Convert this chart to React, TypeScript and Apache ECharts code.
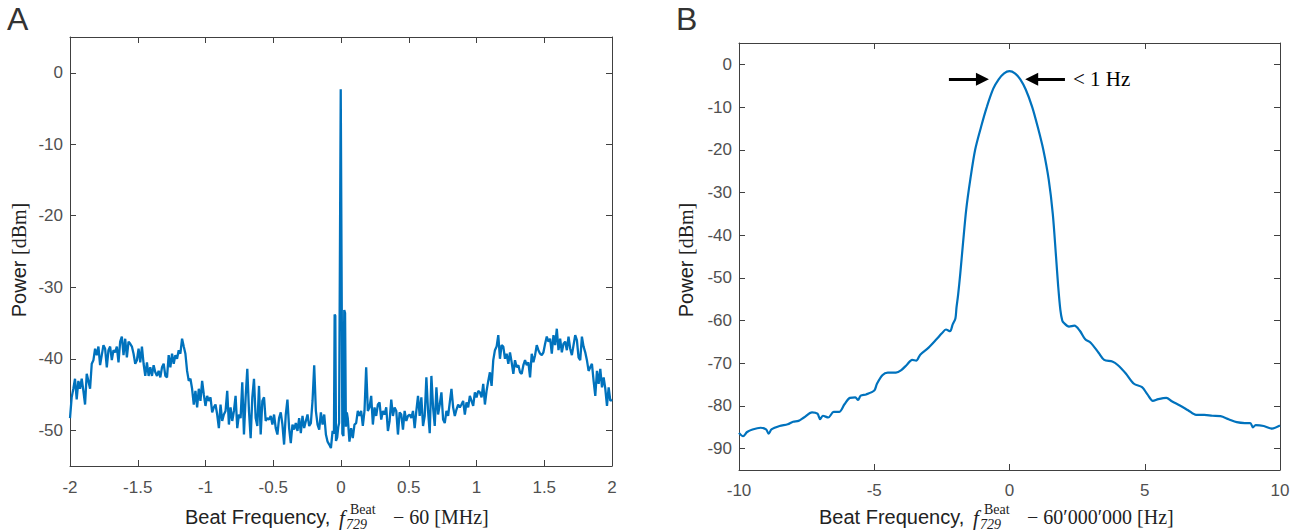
import React, { useEffect, useRef } from "react";
import * as echarts from "echarts";

// ---------- Panel A data ----------
const xTicksA = [-2, -1.5, -1, -0.5, 0, 0.5, 1, 1.5, 2];
const yTicksA = [0, -10, -20, -30, -40, -50];

// left part, evenly sampled from -2 to -0.062 MHz
const leftStartA = -2;
const leftEndA = -0.062;
const powerLeftA = [
  -48.3, -45.4, -44.2, -42.8, -45.7, -43.1, -44.2, -42.8, -44.5, -46.4,
  -42.1, -43.1, -44.2, -40.7, -40.2, -38.6, -39.5, -38.3, -40.9, -39.5,
  -38.1, -38.6, -41.2, -38.8, -38.3, -40.2, -38.8, -39.1, -38.3, -40.5,
  -37.6, -36.9, -39.5, -37.2, -39.8, -37.6, -37.9, -38.3, -39.3, -40.7,
  -40.2, -38.6, -40.5, -38.3, -40.7, -42.4, -40.5, -42.4, -41.2, -42.4,
  -40.9, -41.9, -42.4, -41.7, -42.6, -41.2, -40.7, -42.4, -42.6, -39.5,
  -41.2, -39.3, -40.7, -39.5, -40.0, -38.8, -39.3, -37.2, -38.3, -39.3,
  -41.7, -43.1, -42.8, -44.2, -46.4, -44.5, -46.8, -44.2, -45.9, -43.1,
  -45.0, -46.6, -45.2, -45.9, -45.4, -47.5, -46.8, -46.4, -47.8, -49.7,
  -46.4, -48.7, -47.8, -47.3, -44.5, -49.2, -46.8, -48.7, -47.3, -45.2,
  -49.7, -47.8, -48.3, -43.3, -50.6, -45.4, -41.4, -47.3, -51.1, -45.4,
  -42.8, -48.3, -49.4, -43.8, -50.6, -45.9, -45.4, -48.7, -48.3, -48.5,
  -48.0, -49.2, -47.8, -49.7, -50.6, -48.3, -47.5, -49.2, -52.0, -47.8,
  -45.7, -49.7, -51.8, -49.2, -49.9, -49.0, -50.1, -48.3, -50.4, -48.0,
  -49.7, -48.7, -47.8, -49.4, -49.0, -45.9, -40.9, -47.3, -49.2, -49.9,
  -47.5, -49.2, -47.8, -50.6, -51.6, -52.0, -52.5, -50.1,
];

// carrier and its sidebands
const centerFreqA = [-0.052, -0.047, -0.042, -0.037, -0.028, -0.02, -0.014, -0.002, 0.01, 0.018, 0.024, 0.03, 0.036, 0.043];
const centerPowerA = [-50.5, -33.8, -34.0, -51.5, -51.0, -49.5, -49.0, -2.3, -50.5, -50.8, -33.2, -33.6, -49.5, -47.5];

// right part, evenly sampled from 0.05 to 2 MHz
const rightStartA = 0.05;
const rightEndA = 2.0;
const powerRightA = [
  -48.3, -51.6, -49.7, -51.1, -49.2, -49.0, -47.3, -48.0, -47.3, -49.4,
  -47.3, -41.2, -47.3, -46.8, -45.2, -49.2, -46.8, -48.0, -46.4, -46.1,
  -48.5, -47.3, -47.8, -46.8, -50.1, -48.7, -45.7, -48.0, -46.8, -47.3,
  -50.6, -47.5, -47.8, -49.9, -47.3, -48.7, -48.0, -47.8, -48.3, -47.3,
  -49.7, -47.3, -45.2, -48.0, -45.4, -49.4, -48.0, -42.6, -47.3, -50.4,
  -42.4, -46.8, -49.4, -44.0, -47.8, -46.4, -44.7, -48.5, -49.0, -47.3,
  -48.0, -46.1, -44.2, -46.8, -48.0, -47.1, -46.4, -46.8, -46.4, -45.9,
  -47.8, -46.1, -46.8, -45.2, -45.9, -46.6, -44.7, -45.4, -44.5, -44.7,
  -45.4, -43.5, -46.4, -44.5, -43.1, -41.9, -43.8, -40.2, -38.8, -38.3,
  -36.7, -40.0, -38.1, -38.3, -40.0, -39.3, -40.7, -39.1, -40.5, -42.1,
  -40.2, -41.2, -40.9, -41.9, -42.1, -40.9, -40.2, -40.9, -40.5, -42.6,
  -39.3, -40.5, -39.5, -38.1, -38.8, -39.3, -39.5, -39.1, -37.9, -36.9,
  -37.6, -37.2, -39.3, -36.7, -38.1, -35.8, -38.8, -37.2, -39.1, -37.9,
  -37.6, -38.8, -36.9, -38.6, -39.5, -38.1, -36.7, -37.4, -39.8, -40.2,
  -36.9, -38.3, -39.1, -40.2, -41.7, -41.2, -40.7, -43.1, -45.2, -41.7,
  -43.5, -41.4, -44.0, -42.6, -44.2, -46.6, -44.0, -45.9, -45.7,
];

// ---------- Panel B data ----------
const xTicksB = [-10, -5, 0, 5, 10];
const yTicksB = [0, -10, -20, -30, -40, -50, -60, -70, -80, -90];

const freqB = [
  -10, -9.85, -9.7, -9.5, -9.2, -9.0, -8.9, -8.8, -8.5, -8.2,
  -8.0, -7.8, -7.6, -7.3, -7.1, -7.0, -6.9, -6.7, -6.5, -6.3,
  -6.1, -5.9, -5.7, -5.6, -5.5, -5.3, -5.0, -4.9, -4.7, -4.5,
  -4.2, -4.0, -3.8, -3.6, -3.45, -3.3, -3.0, -2.7, -2.5, -2.35,
  -2.2, -2.1, -2.0, -1.96, -1.9, -1.82, -1.72, -1.6, -1.45, -1.27,
  -1.05, -0.84, -0.6, -0.4, -0.2, 0, 0.2, 0.4, 0.6, 0.84,
  1.05, 1.25, 1.45, 1.6, 1.72, 1.8, 1.88, 1.95, 2.0, 2.2,
  2.4, 2.6, 2.8, 3.0, 3.3, 3.5, 3.8, 4.0, 4.3, 4.6,
  4.9, 5.1, 5.3, 5.5, 5.8, 6.0, 6.3, 6.6, 6.9, 7.2,
  7.5, 7.8, 8.1, 8.4, 8.7, 8.9, 9.0, 9.1, 9.4, 9.7,
  10,
];
const powerB = [
  -86.3, -87.1, -86.1, -85.5, -85.1, -85.5, -86.5, -85.5, -84.7, -84.3,
  -83.7, -83.5, -82.7, -81.5, -81.8, -83.1, -82.3, -82.7, -81.4, -81.4,
  -79.6, -78.1, -78.0, -78.6, -77.6, -77.3, -76.4, -74.8, -72.8, -72.2,
  -72.2, -71.6, -70.4, -69.2, -69.4, -68.0, -66.4, -64.4, -63.0, -62.1,
  -62.5, -60.9, -59.5, -57.0, -54.0, -49.0, -42.0, -34.0, -27.0, -20.0,
  -14.6, -10.0, -5.7, -3.5, -2.1, -1.6, -2.1, -3.5, -5.9, -10.0,
  -14.8, -20.0, -27.0, -35.0, -45.0, -52.0, -57.5, -60.0, -60.5, -61.4,
  -61.2, -62.4, -64.4, -65.2, -67.6, -69.2, -69.6, -70.4, -72.4, -74.8,
  -75.6, -77.3, -78.8, -78.4, -78.1, -78.9, -79.9, -81.0, -82.1, -82.1,
  -82.3, -82.4, -83.1, -83.8, -84.0, -84.0, -85.0, -84.5, -84.7, -85.3,
  -84.6,
];

// linewidth annotation (arrow positions in data units)
const arrowY = -3.5;
const leftArrow = [-2.24, -1.0];
const rightArrow = [2.05, 0.82];

const LINE = "#0072BD";
const AXIS = "#404040";
const LABEL = "#505050";
const SANS = '"Liberation Sans", Arial, Helvetica, sans-serif';
const SERIF = '"Liberation Serif", "Times New Roman", serif';

function evenPairs(start: number, end: number, values: number[]) {
  const n = values.length;
  return values.map((v, i) => [start + ((end - start) * i) / (n - 1), v]);
}

function axisPair(gridIndex: number, min: number, max: number, ticks: number[], dim: "x" | "y", margin: number) {
  const common = {
    type: "value",
    gridIndex,
    min,
    max,
    axisLine: { show: true, onZero: false, lineStyle: { color: AXIS, width: 1 } },
    axisTick: { show: true, inside: true, length: 6, customValues: ticks, lineStyle: { color: AXIS, width: 1 } },
    splitLine: { show: false },
  };
  const labelled = {
    ...common,
    position: dim === "x" ? "bottom" : "left",
    axisLabel: { customValues: ticks, margin, color: LABEL, fontSize: 17, fontFamily: SANS },
  };
  const mirror = {
    ...common,
    position: dim === "x" ? "top" : "right",
    axisLabel: { show: false },
  };
  return [labelled, mirror];
}

export default function App() {
  const ref = useRef<HTMLDivElement>(null);

  useEffect(() => {
    if (!ref.current) return;
    const chart = echarts.init(ref.current, undefined, { renderer: "svg" });

    const dataA = [
      ...evenPairs(leftStartA, leftEndA, powerLeftA),
      ...centerFreqA.map((f, i) => [f, centerPowerA[i]]),
      ...evenPairs(rightStartA, rightEndA, powerRightA),
    ];
    const dataB = freqB.map((f, i) => [f, powerB[i]]);

    const titleText = (x: number, y: number, text: string, font: string, fill = "#222") => ({
      type: "text",
      x,
      y,
      silent: true,
      style: { text, font, fill, verticalAlign: "middle", align: "left" },
    });

    const yTitle = (x: number, y: number) => ({
      type: "text",
      x,
      y,
      rotation: Math.PI / 2,
      silent: true,
      style: {
        text: "{a|Power }{b|[dBm]}",
        align: "center",
        verticalAlign: "middle",
        fill: "#222",
        rich: {
          a: { fontFamily: SANS, fontSize: 20, fill: "#222" },
          b: { fontFamily: SERIF, fontSize: 20, fill: "#222" },
        },
      },
    });

    const option = {
      animation: false,
      backgroundColor: "#ffffff",
      grid: [
        { left: 70, top: 37, width: 542, height: 429, containLabel: false },
        { left: 739, top: 43, width: 541, height: 427, containLabel: false },
      ],
      xAxis: [
        ...axisPair(0, -2, 2, xTicksA, "x", 13),
        ...axisPair(1, -10, 10, xTicksB, "x", 12),
      ],
      yAxis: [
        ...axisPair(0, -55, 5, yTicksA, "y", 7),
        ...axisPair(1, -95, 5, yTicksB, "y", 7),
      ],
      series: [
        {
          type: "line",
          xAxisIndex: 0,
          yAxisIndex: 0,
          data: dataA,
          symbol: "none",
          lineStyle: { color: LINE, width: 2.3 },
          silent: true,
        },
        {
          type: "line",
          xAxisIndex: 2,
          yAxisIndex: 2,
          data: dataB,
          symbol: "none",
          smooth: 0.3,
          lineStyle: { color: LINE, width: 2.2 },
          silent: true,
          markLine: {
            silent: true,
            symbol: ["none", "triangle"],
            symbolSize: 13,
            label: { show: false },
            lineStyle: { color: "#000", width: 3, type: "solid" },
            data: [
              [{ coord: [leftArrow[0], arrowY] }, { coord: [leftArrow[1], arrowY] }],
              [{ coord: [rightArrow[0], arrowY] }, { coord: [rightArrow[1], arrowY] }],
            ],
          },
        },
      ],
      graphic: [
        titleText(7, 19, "A", `32px ${SANS}`, "#333"),
        titleText(676, 19, "B", `32px ${SANS}`, "#333"),
        yTitle(19, 260),
        yTitle(686, 260),
        // panel A x title
        titleText(185, 517, "Beat Frequency,", `20px ${SANS}`),
        titleText(339, 518, "f", `italic 21px ${SERIF}`),
        titleText(350, 509, "Beat", `14px ${SERIF}`),
        titleText(346, 524, "729", `italic 14px ${SERIF}`),
        titleText(393, 517, "\u2212 60 [MHz]", `20px ${SERIF}`),
        // panel B x title
        titleText(819, 517, "Beat Frequency,", `20px ${SANS}`),
        titleText(973, 518, "f", `italic 21px ${SERIF}`),
        titleText(984, 509, "Beat", `14px ${SERIF}`),
        titleText(980, 524, "729", `italic 14px ${SERIF}`),
        titleText(1027, 517, "\u2212 60\u2032000\u2032000 [Hz]", `20px ${SERIF}`),
        // annotation
        titleText(1073, 79, "< 1 Hz", `21px ${SERIF}`, "#000"),
      ],
    };

    chart.setOption(option as any);
    return () => chart.dispose();
  }, []);

  return (
    <div
      ref={ref}
      style={{ position: "fixed", left: 0, top: 0, width: 1308, height: 532, background: "#fff" }}
    />
  );
}
